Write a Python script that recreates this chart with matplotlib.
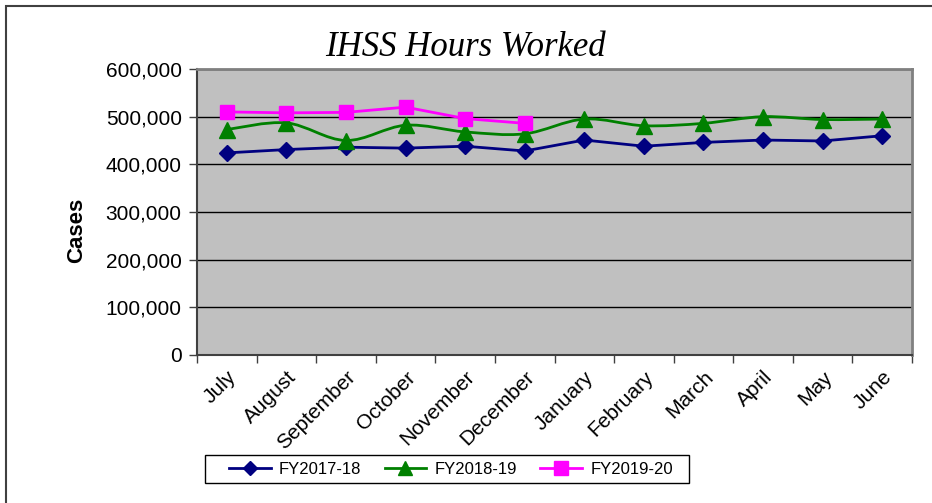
import matplotlib
matplotlib.use('Agg')
import matplotlib.pyplot as plt
from matplotlib.path import Path
from matplotlib.patches import PathPatch, Rectangle
from matplotlib.lines import Line2D
from matplotlib.ticker import FixedLocator, FuncFormatter

plt.rcParams['font.family'] = ['Liberation Sans', 'DejaVu Sans']

# dane
months = ['July', 'August', 'September', 'October', 'November', 'December',
          'January', 'February', 'March', 'April', 'May', 'June']
fy1718 = [424000, 431000, 436000, 434000, 438000, 428000,
          451000, 438000, 446000, 451000, 449000, 460000]
fy1819 = [473000, 487000, 450000, 482000, 468000, 464000,
          495000, 481000, 486000, 500000, 494000, 495000]
fy1920 = [510000, 508000, 509000, 520000, 496000, 486000]

navy = '#000080'
green = '#008000'
pink = '#FF00FF'

fig = plt.figure(figsize=(9.32, 5.03), dpi=100)
ax = fig.add_axes([197 / 932, 1 - 355 / 503, 715 / 932, 286 / 503])
ax.set_facecolor('#C0C0C0')

x = list(range(len(months)))

# FY2017-18 - zwykla linia
ax.plot(x, fy1718, '-', color=navy, lw=2, marker='D', ms=8,
        markeredgecolor=navy, zorder=4)

# FY2018-19 - linia wygladzona (krzywe Beziera jak w Excelu)
pts = list(zip(x, fy1819))
verts = [pts[0]]
codes = [Path.MOVETO]
for i in range(len(pts) - 1):
    p0 = pts[i - 1] if i > 0 else pts[i]
    p1 = pts[i]
    p2 = pts[i + 1]
    p3 = pts[i + 2] if i + 2 < len(pts) else pts[i + 1]
    c1 = (p1[0] + (p2[0] - p0[0]) / 6, p1[1] + (p2[1] - p0[1]) / 6)
    c2 = (p2[0] - (p3[0] - p1[0]) / 6, p2[1] - (p3[1] - p1[1]) / 6)
    verts += [c1, c2, p2]
    codes += [Path.CURVE4] * 3
ax.add_patch(PathPatch(Path(verts, codes), facecolor='none', edgecolor=green,
                       lw=2, zorder=3))
ax.plot(x, fy1819, linestyle='none', marker='^', ms=11, color=green,
        markeredgecolor=green, zorder=4)

# FY2019-20
ax.plot(x[:len(fy1920)], fy1920, '-', color=pink, lw=2, marker='s', ms=10,
        markeredgecolor=pink, zorder=5)

ax.set_xlim(-0.5, len(months) - 0.5)
ax.set_ylim(0, 600000)
ax.set_yticks(range(0, 600001, 100000))
ax.yaxis.set_major_formatter(FuncFormatter(lambda v, p: '{:,.0f}'.format(v)))
ax.yaxis.grid(True, color='black', lw=1)
ax.set_axisbelow(True)

ax.set_xticks(x)
ax.set_xticklabels(months, rotation=45, ha='right', rotation_mode='anchor')
ax.xaxis.set_minor_locator(FixedLocator([i - 0.5 for i in range(len(months) + 1)]))
ax.tick_params(axis='x', which='major', length=0, pad=9, labelsize=15)
ax.tick_params(axis='x', which='minor', length=6, width=1, color='#404040')
ax.tick_params(axis='y', length=6, width=1, color='#404040', labelsize=15, pad=5)

for s in ['top', 'right']:
    ax.spines[s].set_color('#808080')
    ax.spines[s].set_linewidth(2)
for s in ['left', 'bottom']:
    ax.spines[s].set_color('#404040')
    ax.spines[s].set_linewidth(1.5)

# opis osi y
fig.text(76.5 / 932, 1 - 230 / 503, 'Cases', rotation=90, ha='center',
         va='center', fontsize=16, fontweight='bold')

fig.text(465 / 932, 1 - 47 / 503, 'IHSS Hours Worked', ha='center', va='center',
         fontsize=25, style='italic', family=['Liberation Serif', 'DejaVu Serif'])

handles = [
    Line2D([], [], color=navy, lw=2, marker='D', ms=7),
    Line2D([], [], color=green, lw=2, marker='^', ms=10),
    Line2D([], [], color=pink, lw=2, marker='s', ms=10),
]
leg = fig.legend(handles, ['FY2017-18', 'FY2018-19', 'FY2019-20'], loc='center',
                 bbox_to_anchor=(451 / 932, 1 - 469 / 503), ncol=3, fontsize=12,
                 frameon=False, handlelength=2.5, handletextpad=0.5,
                 columnspacing=1.4)

# ramka legendy
fig.patches.append(Rectangle((205 / 932, 1 - 483 / 503), 484 / 932, 28 / 503,
                             transform=fig.transFigure, fill=False,
                             edgecolor='black', lw=1, zorder=0))

# ramka calego wykresu (widoczna tylko z lewej i u gory)
fig.patches.append(Rectangle((6 / 932, -0.1), 1.2, 1 - 6 / 503 + 0.1,
                             transform=fig.transFigure, fill=False,
                             edgecolor='#404040', lw=1.5, zorder=0))

fig.savefig('out.png', dpi=100)
